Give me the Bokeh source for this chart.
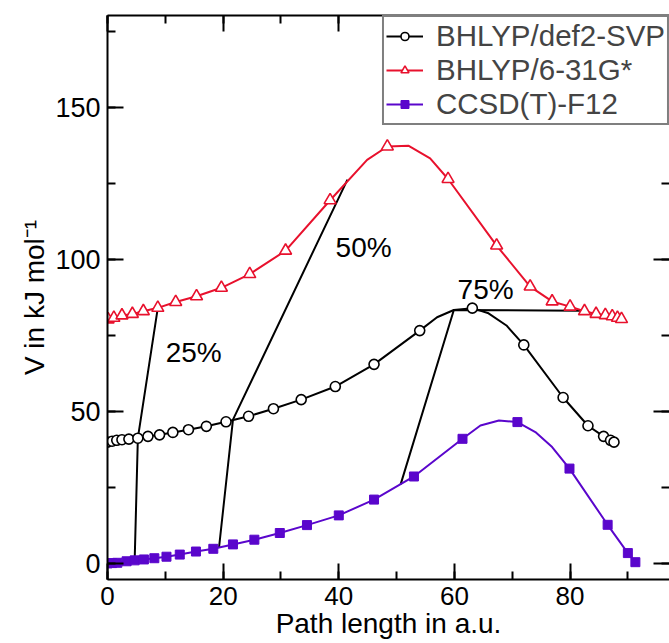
from bokeh.plotting import figure
from bokeh.models import (Range1d, LinearAxis, SingleIntervalTicker, Legend, LegendItem,
                          CustomJSTickFormatter, ColumnDataSource)
from bokeh.core.properties import value
from bokeh.embed import file_html
from bokeh.resources import INLINE

# ---------------- data ----------------
# BHLYP/6-31G* (red, open triangles)
red_x = [0.1, 1.1, 2.5, 4.3, 6.2, 8.7, 11.8, 15.4, 19.7, 24.6, 30.8, 38.5, 48.4, 58.9,
         67.3, 73.1, 76.9, 80.0, 82.5, 84.5, 86.1, 87.3, 88.2, 88.9]
red_y = [80.3, 80.8, 81.6, 82.1, 83.0, 84.1, 86.0, 87.9, 90.7, 95.2, 102.9, 119.5, 137.2, 126.5,
         104.6, 91.1, 86.2, 84.5, 83.0, 82.1, 81.7, 81.3, 80.8, 80.4]
red_path_x = [0.1, 1.1, 2.5, 4.3, 6.2, 8.7, 11.8, 15.4, 19.7, 24.6, 30.8, 38.5, 44.9, 48.4,
              52.1, 55.8, 58.9, 67.3, 73.1, 76.9, 80.0, 82.5, 84.5, 86.1, 87.3, 88.2, 88.9]
red_path_y = [80.3, 80.8, 81.6, 82.1, 83.0, 84.1, 86.0, 87.9, 90.7, 95.2, 102.9, 119.5, 132.8, 137.2,
              137.4, 133.3, 126.5, 104.6, 91.1, 86.2, 84.5, 83.0, 82.1, 81.7, 81.3, 80.8, 80.4]

# BHLYP/def2-SVP (black, open circles)
blk_x = [0.0, 0.8, 1.6, 2.5, 3.7, 5.25, 7.0, 9.0, 11.3, 14.0, 17.1, 20.5, 24.4, 28.7, 33.5,
         39.4, 46.1, 54.0, 63.1, 72.0, 78.8, 83.1, 85.8, 87.0, 87.6]
blk_y = [39.9, 40.2, 40.5, 40.7, 40.9, 41.2, 41.8, 42.3, 43.1, 44.0, 45.1, 46.6, 48.4, 50.9, 53.9,
         58.2, 65.5, 76.6, 84.0, 71.9, 54.6, 45.3, 41.8, 40.5, 39.9]
blk_path_x = [0.0, 0.8, 1.6, 2.5, 3.7, 5.25, 7.0, 9.0, 11.3, 14.0, 17.1, 20.5, 24.4, 28.7, 33.5,
              39.4, 46.1, 54.0, 57.0, 59.9, 63.1, 65.9, 69.0, 72.0, 78.8, 83.1, 85.8, 87.0, 87.6]
blk_path_y = [39.9, 40.2, 40.5, 40.7, 40.9, 41.2, 41.8, 42.3, 43.1, 44.0, 45.1, 46.6, 48.4, 50.9, 53.9,
              58.2, 65.5, 76.6, 81.0, 83.4, 84.0, 82.3, 78.3, 71.9, 54.6, 45.3, 41.8, 40.5, 39.9]

# CCSD(T)-F12 (purple, filled squares)
pur_x = [0.0, 0.8, 1.7, 3.3, 4.7, 6.3, 8.1, 10.2, 12.5, 15.3, 18.3, 21.7, 25.4, 29.8, 34.5,
         40.0, 46.1, 53.0, 61.4, 70.9, 79.9, 86.5, 90.0, 91.3]
pur_y = [0.0, 0.1, 0.2, 0.7, 1.0, 1.3, 1.7, 2.2, 2.9, 3.9, 4.8, 6.25, 7.8, 10.0, 12.6,
         15.8, 21.0, 28.6, 41.0, 46.5, 31.2, 12.7, 3.4, 0.4]
pur_path_x = [0.0, 0.8, 1.7, 3.3, 4.7, 6.3, 8.1, 10.2, 12.5, 15.3, 18.3, 21.7, 25.4, 29.8, 34.5,
              40.0, 46.1, 53.0, 61.4, 64.5, 67.7, 70.9, 74.0, 76.9, 79.9, 86.5, 90.0, 91.3]
pur_path_y = [0.0, 0.1, 0.2, 0.7, 1.0, 1.3, 1.7, 2.2, 2.9, 3.9, 4.8, 6.25, 7.8, 10.0, 12.6,
              15.8, 21.0, 28.6, 41.0, 45.4, 47.0, 46.5, 43.2, 38.3, 31.2, 12.7, 3.4, 0.4]

# connecting lines (CCSD(T) -> def2-SVP -> 6-31G*)
conn25_x = [4.7, 5.25, 8.7]
conn25_y = [1.0, 41.2, 84.1]
conn50_x = [19.3, 21.7, 41.5]
conn50_y = [5.4, 47.3, 126.3]
conn75_x = [50.7, 59.9, 82.0]
conn75_y = [26.0, 83.4, 83.1]

pct_labels = ["25%", "50%", "75%"]
pct_x = [14.9, 44.3, 65.4]
pct_y = [69.4, 103.9, 90.1]

series_names = ["BHLYP/def2-SVP", "BHLYP/6-31G*", "CCSD(T)-F12"]
x_title = "Path length in a.u."
y_title = "V in kJ mol\u207b\u00b9"

RED = "#e8112d"
PURPLE = "#5a06cc"
FONT = "Liberation Sans"

# ---------------- figure ----------------
p = figure(width=669, height=643, output_backend="svg", toolbar_location=None,
           x_range=Range1d(0, 97.2), y_range=Range1d(-5.3, 180.3),
           x_axis_location=None, y_axis_location=None,
           min_border_left=107, min_border_right=0, min_border_top=15, min_border_bottom=64)
p.outline_line_color = None
p.background_fill_color = "white"
p.border_fill_color = "white"
p.grid.visible = False


def make_axis(interval, labels=True, line=True, title=None, label_standoff=7,
              title_standoff=0, label_size="27px"):
    ax = LinearAxis(ticker=SingleIntervalTicker(interval=interval, num_minor_ticks=2))
    ax.major_tick_in = 16
    ax.major_tick_out = 0
    ax.minor_tick_in = 8
    ax.minor_tick_out = 0
    ax.major_tick_line_width = 2
    ax.minor_tick_line_width = 2
    ax.major_tick_line_color = "black"
    ax.minor_tick_line_color = "black"
    ax.axis_line_width = 2
    ax.axis_line_color = "black" if line else None
    if labels:
        ax.major_label_text_font = FONT
        ax.major_label_text_font_size = label_size
        ax.major_label_text_color = "black"
        ax.major_label_standoff = label_standoff
    else:
        ax.formatter = CustomJSTickFormatter(code="return ''")
        ax.major_label_text_font_size = "0px"
        ax.major_label_standoff = 0
    if title is not None:
        ax.axis_label = title
        ax.axis_label_text_font = FONT
        ax.axis_label_text_font_size = "28px"
        ax.axis_label_text_font_style = "normal"
        ax.axis_label_text_color = "black"
        ax.axis_label_standoff = title_standoff
    return ax


p.add_layout(make_axis(20, title=x_title, label_standoff=7, title_standoff=0,
                       label_size="26px"), "below")
p.add_layout(make_axis(50, title=y_title, label_standoff=7, title_standoff=2), "left")
p.add_layout(make_axis(20, labels=False), "above")
p.add_layout(make_axis(50, labels=False, line=False), "right")

# connecting lines
for cx, cy in [(conn25_x, conn25_y), (conn50_x, conn50_y), (conn75_x, conn75_y)]:
    p.line(cx, cy, line_color="black", line_width=2)

# series
pl = p.line(pur_path_x, pur_path_y, line_color=PURPLE, line_width=2)
ps = p.scatter(pur_x, pur_y, marker="square", size=9, line_color=PURPLE, fill_color=PURPLE)

bl = p.line(blk_path_x, blk_path_y, line_color="black", line_width=2)
bs = p.scatter(blk_x, blk_y, marker="circle", size=10, line_color="black",
               fill_color="white", line_width=1.6)

rl = p.line(red_path_x, red_path_y, line_color=RED, line_width=2)
rs = p.scatter(red_x, red_y, marker="triangle", size=12, line_color=RED,
               fill_color="white", line_width=1.6)

# percentage labels
src = ColumnDataSource(dict(x=pct_x, y=pct_y, t=pct_labels))
p.text("x", "y", text="t", source=src, text_font=value(FONT), text_font_size="28px",
       text_align="center", text_baseline="middle", text_color="black")

# legend
legend = Legend(items=[LegendItem(label=series_names[0], renderers=[bl, bs]),
                       LegendItem(label=series_names[1], renderers=[rl, rs]),
                       LegendItem(label=series_names[2], renderers=[pl, ps])],
                location="top_right", margin=0, padding=2, spacing=0,
                label_text_font=FONT, label_text_font_size="29.5px",
                glyph_width=37, glyph_height=20, label_standoff=13, label_height=20,
                border_line_color="black", border_line_width=2,
                background_fill_color="white", background_fill_alpha=1.0)
p.add_layout(legend)

open("out.html", "w").write(file_html(p, INLINE))
